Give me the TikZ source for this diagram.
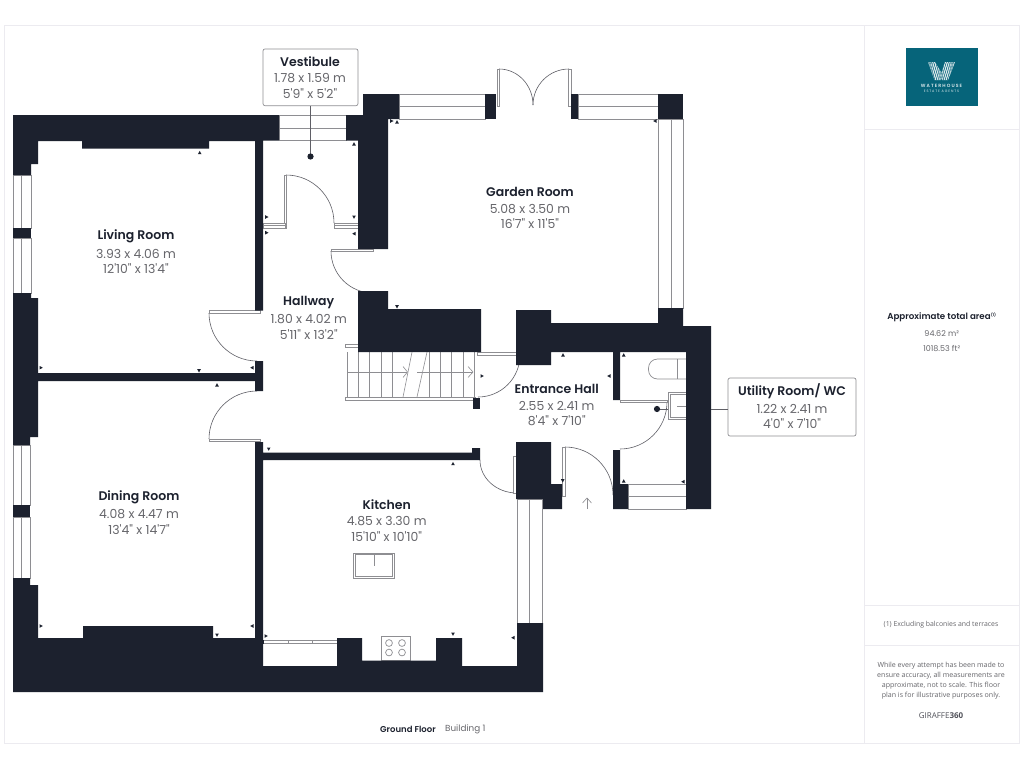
\documentclass[tikz,border=0pt]{standalone}
\usepackage{fontspec}
\setmainfont{Poppins}
\newfontfamily\dimfont{Poppins}
\newfontfamily\namefont{Poppins SemiBold}
\newfontfamily\smallfont{Open Sans}
\definecolor{wallc}{HTML}{1C212E}
\definecolor{linec}{HTML}{8E8E92}
\definecolor{arcc}{HTML}{5F5F66}
\definecolor{framec}{HTML}{ECEBF0}
\definecolor{dimc}{HTML}{66666B}
\definecolor{logoc}{HTML}{06647A}
\tikzset{
 wall/.style={fill=wallc,draw=none},
 win/.style={fill=white,draw=linec,line width=0.7pt},
 thin line/.style={draw=linec,line width=0.7pt},
 leaf/.style={fill=white,draw=linec,line width=0.6pt},
 swing/.style={draw=arcc,line width=0.6pt},
 frameline/.style={draw=framec,line width=0.9pt},
 label/.style={align=center,text=dimc,inner sep=0pt,font=\dimfont\fontsize{12.4}{15}\selectfont},
 roomname/.style={text=wallc,inner sep=0pt,font=\namefont\fontsize{12.5}{15}\selectfont},
 lbox/.style={draw=linec,fill=white,rounded corners=2pt,line width=0.7pt},
 mkr/.style={fill=wallc,draw=none},
 stairline/.style={draw=linec,line width=0.6pt},
 fixture/.style={draw=linec,fill=white,line width=0.7pt},
 panelhead/.style={text=wallc,inner sep=0pt,font=\namefont\fontsize{8.7}{10}\selectfont},
 paneltext/.style={text=dimc,inner sep=0pt,font=\dimfont\fontsize{8}{9}\selectfont},
 disclaimer/.style={text=dimc,inner sep=0pt,align=center,font=\smallfont\fontsize{7.05}{10.2}\selectfont},
}
\newcommand{\roomtext}[6]{%
 \node[roomname] (#1n) at (#2,#3+0.6) {#4};
 \node[label] (#1a) at (#2,#3+17.5) {#5};
 \node[label] (#1b) at (#2,#3+32.5) {#6};
}
\newcommand{\mkset}[2]{% rotation, list of positions; rotate 0 points up
 \foreach \p in {#2}{\fill[mkr,shift={\p},rotate=#1] (-1.8,1.5)--(1.8,1.5)--(0,-1.8)--cycle;}}
\newcommand{\swingV}[4]{% tangent vertical at start
 \pgfmathsetmacro\cay{#2+0.552*(#4-#2)}\pgfmathsetmacro\cbx{#3-0.552*(#3-#1)}%
 \draw[swing] (#1,#2) .. controls (#1,\cay) and (\cbx,#4) .. (#3,#4);}
\newcommand{\swingH}[4]{% tangent horizontal at start
 \pgfmathsetmacro\cax{#1+0.552*(#3-#1)}\pgfmathsetmacro\cby{#4-0.552*(#4-#2)}%
 \draw[swing] (#1,#2) .. controls (\cax,#2) and (#3,\cby) .. (#3,#4);}
\begin{document}
\begin{tikzpicture}[x=1pt,y=-1pt]
\useasboundingbox (0,0) rectangle (1024,768);
\fill[white] (0,0) rectangle (1024,768);
% frame
\draw[frameline] (4,25.5) rectangle (1019.5,743);
\draw[frameline] (864,25.5) -- (864,743);
\draw[frameline] (864,129) -- (1019.5,129);
\draw[frameline] (864,605) -- (1019.5,605);
\draw[frameline] (864,645.5) -- (1019.5,645.5);
% logo
\fill[logoc] (906,48) rectangle (977.5,105.5);
\begin{scope}
 \clip (928,62)--(935,62)--(941.5,73)--(945,62)--(955,62)--(948,80)--(942,80)--(941.5,78)--(940.5,80)--(934.5,80)--cycle;
 \fill[white!88!logoc] (925,60) rectangle (958,82);
 \foreach \d in {0,2.2,...,30}{
  \draw[logoc,line width=0.35pt] (924+\d,60)--(931+\d,82);
  \draw[logoc,line width=0.35pt] (958-\d,60)--(951-\d,82);
 }
\end{scope}
\node[inner sep=0pt,text=white!85!logoc,font=\namefont\fontsize{4.6}{5}\selectfont] (logoa) at (941.5,85.7) {W A T E R H O U S E};
\node[inner sep=0pt,text=white!85!logoc,font=\dimfont\fontsize{3.4}{4}\selectfont] (logob) at (941.5,91.2) {E S T A T E\; A G E N T S};
% windows
\draw[win] (279,115) rectangle (346,140.5);
\draw[thin line] (279,128)--(346,128);
\draw[win] (13,175) rectangle (31,228);
\draw[win] (13,238) rectangle (31,293);
\draw[thin line] (21.5,175)--(21.5,228) (21.5,238)--(21.5,293);
\draw[win] (13,445) rectangle (30,505);
\draw[win] (13,517) rectangle (30,578);
\draw[thin line] (21.5,445)--(21.5,505) (21.5,517)--(21.5,578);
\draw[win] (399,94) rectangle (485,119);
\draw[thin line] (399,106)--(485,106);
\draw[win] (578,94) rectangle (658,119);
\draw[thin line] (578,106)--(658,106);
\draw[win] (658,119) rectangle (683,308);
\draw[thin line] (671,119)--(671,308);
\draw[win] (517,499) rectangle (542.5,623);
\draw[thin line] (529.5,499)--(529.5,623);
\draw[win] (628,484) rectangle (686,509);
\draw[thin line] (628,496.5)--(686,496.5);
% fixtures
\draw[fixture] (668,392) rectangle (686,419);
\draw[fixture] (670,394) rectangle (686,417);
\draw[thin line] (677,406)--(686,406);
\draw[fixture,rounded corners=9pt] (686,359)--(648.5,359)--(648.5,379)--(686,379);
\draw[thin line] (677,359)--(677,379);
\draw[fixture] (353.7,553) rectangle (394,578);
\draw[fixture] (355.2,554.5) rectangle (392.5,576.5);
\draw[thin line] (374,554)--(374,566);
\draw[fixture] (381,636) rectangle (410,660.7);
\foreach \cx/\cy in {389/643,402/643,389/652.5,402/652.5}{\draw[thin line] (\cx,\cy) circle (3.4);}
% stairs
\foreach \x in {347,358,369,381,392,429,440,451,463,474}{\draw[stairline] (\x,352)--(\x,397);}
\draw[stairline] (403,397)--(412,352);
\draw[stairline] (417,397)--(427,352);
\draw[stairline] (347,372)--(407,372);
\draw[stairline] (417,372)--(473,372);
\draw[stairline] (403,366.5)--(407.5,372)--(403,377.5);
\draw[stairline] (468,366.5)--(473,372)--(468,377.5);
\draw[leaf] (345,344)rectangle(358,347);
\draw[leaf] (345,397)rectangle(475,400);
% door swings
\swingV{209}{313}{257}{361}
\swingV{209}{439}{257}{391}
\swingH{286}{175}{334}{223}
\swingV{331}{251}{373}{293}
\swingH{499}{69}{533}{105}
\swingH{569}{69}{533}{105}
\swingV{520}{355}{478}{397}
\swingV{480}{460}{517}{493}
\swingH{565}{447}{613}{495}
\swingV{667}{402}{620}{449}
% door leaves
\draw[leaf] (209,310.7) rectangle (260,313);
\draw[leaf] (209,439) rectangle (260,441.5);
\draw[leaf] (284,175) rectangle (286.5,228);
\draw[leaf] (263,223) rectangle (285,228);
\draw[leaf] (334,223) rectangle (358,228);
\draw[thin line] (334,225.5)--(358,225.5) (263,225.5)--(285,225.5);
\draw[leaf] (331,249) rectangle (373,251.5);
\draw[leaf] (497,69) rectangle (499.3,106);
\draw[leaf] (568.7,69) rectangle (571,106);
\draw[leaf] (477,352.5) rectangle (516,355);
\draw[leaf] (513,456) rectangle (516,493);
\draw[leaf] (562,447) rectangle (565.3,496);
\draw[leaf] (620,400) rectangle (667,402.3);
% kitchen sliding door
\draw[leaf] (263,640.7) rectangle (337,642.9);
\draw[thin line] (288,640.7)--(288,642.9) (312,640.7)--(312,642.9);
% walls
\fill[wall] (13,115)--(279,115)--(279,140.7)--(263,140.7)--(263,310.7)--(255,310.7)--(255,141)--(209,141)--(209,148.7)--(82,148.7)--(82,141)--(38,141)--(38,164)--(31,164)--(31,175)--(13,175)--cycle;
\fill[wall] (13,228) rectangle (31,238);
\fill[wall] (13,293)--(31,293)--(31,298)--(38,298)--(38,373)--(255,373)--(255,361)--(263,361)--(263,391)--(255,391)--(255,381)--(38,381)--(38,437)--(30,437)--(30,445)--(13,445)--cycle;
\fill[wall] (13,505) rectangle (30,517);
\fill[wall] (13,578)--(30,578)--(30,585)--(38,585)--(38,638)--(83,638)--(83,626)--(213,626)--(213,638)--(255,638)--(255,442)--(263,442)--(263,452.7)--(472,452.7)--(472,448)--(480,448)--(480,460)--(263,460)--(263,666)--(337,666)--(337,638)--(362,638)--(362,660.7)--(436,660.7)--(436,638)--(462,638)--(462,666)--(517,666)--(517,623)--(543,623)--(543,692)--(13,692)--cycle;
\fill[wall] (363,94)--(399,94)--(399,119)--(388,119)--(388,249)--(358,249)--(358,140.7)--(346,140.7)--(346,115)--(363,115)--cycle;
\fill[wall] (485,94) rectangle (496,119);
\fill[wall] (571,94) rectangle (578,119);
\fill[wall] (658,94) rectangle (683,119);
\fill[wall] (358,291)--(388,291)--(388,309)--(481,309)--(481,352)--(358,352)--cycle;
\fill[wall] (516,310)--(551,310)--(551,323)--(658,323)--(658,308)--(683,308)--(683,326)--(711,326)--(711,509)--(686,509)--(686,352)--(620,352)--(620,400)--(613,400)--(613,352)--(551,352)--(551,365)--(516,365)--cycle;
\fill[wall] (613,450)--(620,450)--(620,484)--(628,484)--(628,509)--(613,509)--cycle;
\fill[wall] (516,442)--(551,442)--(551,484)--(562,484)--(562,509)--(543,509)--(543,499)--(516,499)--cycle;
\fill[wall] (473,397.5) rectangle (480,409);
\fill[wall] (260.5,640) rectangle (264,644);
% dimension ticks
\mkset{0}{(199.7,152.7),(354,144),(217,385),(397,122),(563,355),(623.7,355),(453,463.7),(623.7,481)}
\mkset{180}{(354,217),(199,370.7),(397,306.7),(562.7,480.7),(217,635),(268.7,449),(453,634)}
\mkset{90}{(354,233.7),(252,367.7),(655,121),(609,376),(683,481.7),(252,626),(513,637.7)}
\mkset{-90}{(266.7,217),(266.7,232.7),(41,367.7),(391.7,121),(482,376),(41,626),(266,636)}
% entrance arrow
\draw[stairline] (587,509)--(587,498);
\draw[stairline] (582.5,503)--(587,498)--(591.5,503);
% labels
\node[lbox,minimum width=95pt,minimum height=56.7pt,inner sep=0pt] (vbox) at (310.5,77.3) {};
\node[lbox,minimum width=128pt,minimum height=58pt,inner sep=0pt] (ubox) at (792,407) {};
\coordinate (vdot) at (310.5,156.5);
\coordinate (udot) at (657,409);
\draw[arcc,line width=0.6pt] (vbox.south) -- (vdot);
\fill[wallc] (vdot) circle (3.1);
\draw[arcc,line width=0.6pt] (udot) -- (668,409);
\draw[arcc,line width=0.6pt] (711,409) -- (ubox.west |- 711,409);
\fill[wallc] (udot) circle (3.1);
\roomtext{vest}{310}{61}{Vestibule}{1.78 x 1.59 m}{5'9" x 5'2"}
\roomtext{util}{792}{391}{Utility Room/ WC}{1.22 x 2.41 m}{4'0" x 7'10"}
\roomtext{living}{136}{236}{Living Room}{3.93 x 4.06 m}{12'10" x 13'4"}
\roomtext{hall}{308.7}{302}{Hallway}{1.80 x 4.02 m}{5'11" x 13'2"}
\roomtext{garden}{530}{191.5}{Garden Room}{5.08 x 3.50 m}{16'7" x 11'5"}
\roomtext{ent}{556.7}{388}{Entrance Hall}{2.55 x 2.41 m}{8'4" x 7'10"}
\roomtext{kit}{386.7}{504}{Kitchen}{4.85 x 3.30 m}{15'10" x 10'10"}
\roomtext{din}{139}{497}{Dining Room}{4.08 x 4.47 m}{13'4" x 14'7"}
\node[anchor=west,inner sep=0pt,text=wallc,font=\namefont\fontsize{8.5}{10}\selectfont] (gf) at (380,729) {Ground Floor};
\node[anchor=west,inner sep=0pt,text=dimc,font=\dimfont\fontsize{8.8}{10}\selectfont] (bld) at (445,729) {Building 1};
\node[panelhead] (area) at (941.7,317) {Approximate total area\raisebox{2.5pt}{\fontsize{4}{4}\selectfont(1)}};
\node[paneltext] (am) at (941.7,334) {94.62 m²};
\node[paneltext] (aft) at (941.7,348.7) {1018.53 ft²};
\node[paneltext,font=\smallfont\fontsize{6.9}{8}\selectfont] (excl) at (941,625) {(1) Excluding balconies and terraces};
\node[disclaimer] (disc) at (941,680.6) {While every attempt has been made to\\ensure accuracy, all measurements are\\approximate, not to scale. This floor\\plan is for illustrative purposes only.};
\node[inner sep=0pt,text=dimc!70!wallc,font=\smallfont\fontsize{8}{9}\selectfont] (gir) at (941,715.7) {GIRAFFE\textbf{360}};
\end{tikzpicture}
\end{document}
